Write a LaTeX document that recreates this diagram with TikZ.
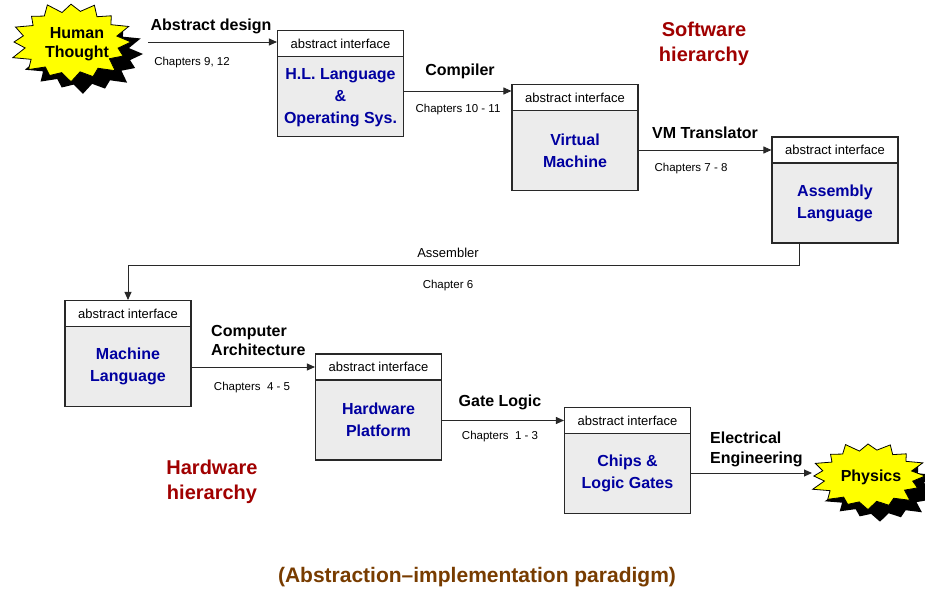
\documentclass[tikz,border=0pt]{standalone}
\usepackage{fontspec}
\setmainfont{Liberation Sans}
\usetikzlibrary{arrows.meta,calc}

\definecolor{boxgray}{RGB}{236,236,236}
\definecolor{lvlblue}{RGB}{0,0,160}
\definecolor{hierred}{RGB}{160,0,0}
\definecolor{parbrown}{RGB}{120,60,0}
\definecolor{burstyellow}{RGB}{255,255,0}
\definecolor{edgegray}{RGB}{40,40,40}

% jagged starburst outline: centre (#1,#2), half axes #3 and #4
\newcommand\burstpath[4]{%
  ({#1+#3},{#2})
  \foreach \k/\ri/\ro in {0/0.80/0.94,1/0.77/1.04,2/0.81/0.96,3/0.78/1.02,4/0.80/0.93,
                          5/0.77/1.00,6/0.80/1.05,7/0.78/0.95,8/0.81/1.00,9/0.76/0.93,
                          10/0.80/1.03,11/0.77/0.97,12/0.80/1.02,13/0.78/0.95,14/0.80/1.04,
                          15/0.78/1.00}{
    -- ({#1+#3*\ri*cos(\k*22.5+11.25)},{#2+#4*\ri*sin(\k*22.5+11.25)})
    -- ({#1+#3*\ro*cos(\k*22.5+22.5)},{#2+#4*\ro*sin(\k*22.5+22.5)})
  } -- cycle}

\newcommand\drawburst[4]{%
  \fill[black] \burstpath{#1+12}{#2+12}{#3}{#4};
  \filldraw[fill=burstyellow,draw=black,line width=0.8pt,line join=miter] \burstpath{#1}{#2}{#3}{#4};
}

\tikzset{
  lvlbox/.style={draw=edgegray,line width=1.1pt,fill=boxgray,minimum width=126pt,
    minimum height=106pt,inner sep=0pt},
  lvlhead/.style={draw=edgegray,line width=1.1pt,fill=white,minimum width=126pt,
    minimum height=26pt,inner sep=0pt,anchor=north,font=\fontsize{13}{15}\selectfont},
  lvltext/.style={text=lvlblue,font=\bfseries\fontsize{16}{22}\selectfont,align=center},
  toollabel/.style={font=\bfseries\fontsize{16}{19.5}\selectfont,inner sep=0pt},
  chaplabel/.style={font=\fontsize{11.5}{14}\selectfont,inner sep=0pt},
  burstlabel/.style={font=\bfseries\fontsize{16}{19}\selectfont,align=center,inner sep=0pt},
  hierlabel/.style={text=hierred,font=\bfseries\fontsize{20}{25}\selectfont,align=center,inner sep=0pt},
  arr/.style={-{Triangle[length=8pt,width=7pt]},line width=0.9pt,draw=edgegray},
}

\begin{document}
\begin{tikzpicture}[x=1pt,y=-1pt]
\useasboundingbox (0,0) rectangle (925,591);

% starbursts at both ends
\drawburst{71}{42}{60}{39}
\node[burstlabel] (ht) at (77,44.5) {Human\\Thought};
\drawburst{868}{476}{57}{33}
\node[burstlabel] (phys) at (871,477) {Physics};

% abstraction levels
\node[lvlbox] (hl) at (340.5,83.5) {};
\node[lvlhead] (hlh) at (hl.north) {abstract interface};
\node[lvltext] at ($(hl.center)+(0,14)$) {H.L. Language\\\&\\Operating Sys.};

\node[lvlbox] (vm) at (575,137.5) {};
\node[lvlhead] (vmh) at (vm.north) {abstract interface};
\node[lvltext] at ($(vm.center)+(0,13)$) {Virtual\\Machine};

\node[lvlbox] (asm) at (835,190) {};
\node[lvlhead] (asmh) at (asm.north) {abstract interface};
\node[lvltext] at ($(asm.center)+(0,13)$) {Assembly\\Language};

\node[lvlbox] (ml) at (128,353.5) {};
\node[lvlhead] (mlh) at (ml.north) {abstract interface};
\node[lvltext] at ($(ml.center)+(0,13)$) {Machine\\Language};

\node[lvlbox] (hw) at (378.5,407) {};
\node[lvlhead] (hwh) at (hw.north) {abstract interface};
\node[lvltext] at ($(hw.center)+(0,13)$) {Hardware\\Platform};

\node[lvlbox] (ch) at (627.5,460.5) {};
\node[lvlhead] (chh) at (ch.north) {abstract interface};
\node[lvltext] at ($(ch.center)+(0,13)$) {Chips \&\\Logic Gates};

% connector ends
\coordinate (htout) at (148,42);
\coordinate (asmout) at (799,243);
\coordinate (physin) at (812,473);

% connectors
\draw[arr] (htout) -- (hlh.west |- htout);
\draw[arr] (hl.east |- 0,91) -- (vm.west |- 0,91);
\draw[arr] (vm.east |- asmh.west) -- (asmh.west);
\draw[arr] (asmout) -- ++(0,22) -| (mlh.north);
\draw[arr] (ml.east |- hwh.west) -- (hwh.west);
\draw[arr] (hw.east |- chh.west) -- (chh.west);
\draw[arr] (ch.east |- physin) -- (physin);

% transformation labels
\node[toollabel] (l1) at (211,26) {Abstract design};
\node[chaplabel] (c1) at (192,63) {Chapters 9, 12};
\node[toollabel] (l2) at (460,71) {Compiler};
\node[chaplabel] (c2) at (458,110) {Chapters 10 - 11};
\node[toollabel] (l3) at (705,133) {VM Translator};
\node[chaplabel] (c3) at (691,169) {Chapters 7 - 8};
\node[font=\fontsize{13}{15}\selectfont,inner sep=0pt] (l4) at (448,253) {Assembler};
\node[chaplabel] (c4) at (448,286) {Chapter 6};
\node[toollabel,align=left,anchor=west] (l5) at (211,340.5) {Computer\\Architecture};
\node[chaplabel] (c5) at (252,388) {Chapters\ \ 4 - 5};
\node[toollabel] (l6) at (500,402) {Gate Logic};
\node[chaplabel] (c6) at (500,437) {Chapters\ \ 1 - 3};
\node[toollabel,align=left,anchor=west] (l7) at (710,449.5) {Electrical\\Engineering};

% hierarchy titles
\node[hierlabel] (sw) at (704,43.5) {Software\\hierarchy};
\node[hierlabel] (hwt) at (212,481.5) {Hardware\\hierarchy};
\node[text=parbrown,font=\bfseries\fontsize{21}{25}\selectfont,inner sep=0pt] (para) at (477,577)
  {(Abstraction–implementation paradigm)};
\end{tikzpicture}
\end{document}
